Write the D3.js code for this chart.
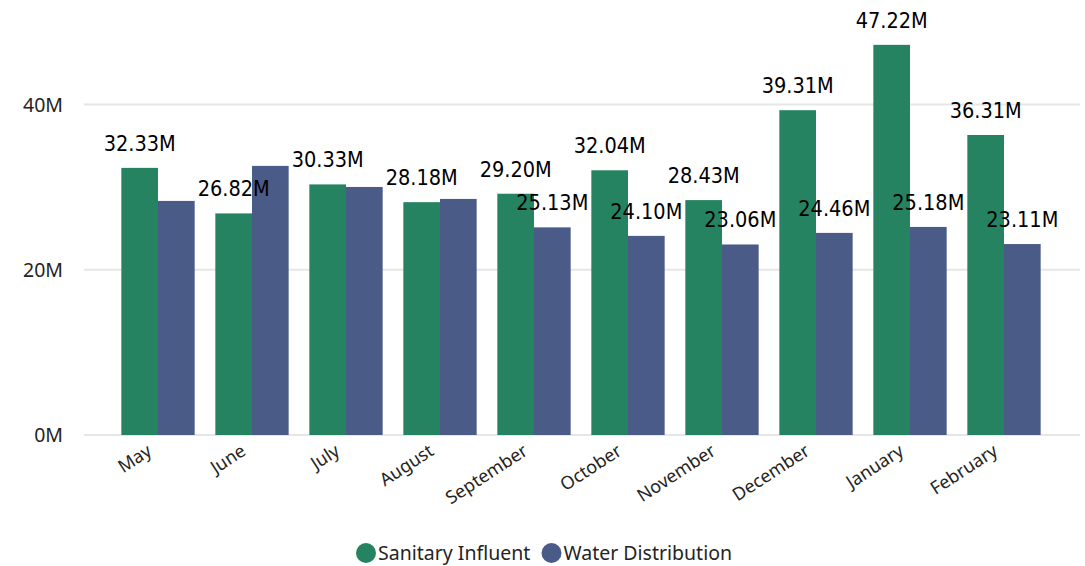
<!DOCTYPE html>
<html>
<head>
<meta charset="utf-8">
<script src="https://cdn.jsdelivr.net/npm/d3@7"></script>
<style>
  html, body { margin: 0; padding: 0; background: #ffffff; }
  svg { display: block; }
</style>
</head>
<body>
<svg id="chart" width="1085" height="566"></svg>
<script>
// Monthly volumes (millions) for the two systems
const months = ["May", "June", "July", "August", "September", "October", "November", "December", "January", "February"];
const sanitaryInfluent = [32.33, 26.82, 30.33, 28.18, 29.20, 32.04, 28.43, 39.31, 47.22, 36.31];
const waterDistribution = [28.33, 32.57, 30.02, 28.57, 25.13, 24.10, 23.06, 24.46, 25.18, 23.11];
// Months whose Water Distribution value carries a data label
const waterLabelMonths = ["September", "October", "November", "December", "January", "February"];
const seriesNames = ["Sanitary Influent", "Water Distribution"];
const seriesColors = ["#258361", "#4B5B88"];
const yTicks = [0, 20, 40];

const svg = d3.select("#chart");
const uiFont = "'Noto Sans', 'Open Sans', sans-serif";

const x = d3.scaleBand().domain(months).range([111, 1051]).paddingInner(0.22).paddingOuter(0.11);
const xs = d3.scaleBand().domain(seriesNames).range([0, x.bandwidth()]);
const y = d3.scaleLinear().domain([0, 40]).range([435, 104.5]);

// Gridlines
svg.append("g")
  .selectAll("line")
  .data(yTicks)
  .join("line")
  .attr("x1", 84).attr("x2", 1080)
  .attr("y1", d => y(d)).attr("y2", d => y(d))
  .attr("stroke", "#e6e6e6")
  .attr("stroke-width", 2);

// Y axis labels
svg.append("g")
  .selectAll("text")
  .data(yTicks)
  .join("text")
  .attr("x", 63)
  .attr("y", d => y(d))
  .attr("dy", "0.36em")
  .attr("text-anchor", "end")
  .attr("font-family", uiFont)
  .attr("font-size", 19.5)
  .attr("fill", "#252423")
  .text(d => d + "M");

const rows = months.map((m, i) => ({
  month: m,
  values: [
    { series: seriesNames[0], value: sanitaryInfluent[i], color: seriesColors[0], label: true },
    { series: seriesNames[1], value: waterDistribution[i], color: seriesColors[1], label: waterLabelMonths.includes(m) }
  ]
}));

const groups = svg.append("g")
  .selectAll("g")
  .data(rows)
  .join("g")
  .attr("transform", d => `translate(${x(d.month)},0)`);

groups.selectAll("rect")
  .data(d => d.values)
  .join("rect")
  .attr("x", d => xs(d.series))
  .attr("y", d => y(d.value))
  .attr("width", xs.bandwidth())
  .attr("height", d => y(0) - y(d.value))
  .attr("fill", d => d.color);

// Value labels
groups.selectAll("text")
  .data(d => d.values.filter(v => v.label))
  .join("text")
  .attr("x", d => xs(d.series) + xs.bandwidth() / 2)
  .attr("y", d => y(d.value) - 17)
  .attr("text-anchor", "middle")
  .attr("font-family", "'DejaVu Sans', sans-serif")
  .attr("font-stretch", "condensed")
  .attr("font-size", 21.5)
  .attr("fill", "#000000")
  .text(d => d.value.toFixed(2) + "M");

// X axis labels, rotated
svg.append("g")
  .selectAll("text")
  .data(months)
  .join("text")
  .attr("transform", d => `translate(${x(d) + x.bandwidth() / 2 - 5},454) rotate(-33)`)
  .attr("text-anchor", "end")
  .attr("font-family", uiFont)
  .attr("font-size", 18)
  .attr("fill", "#252423")
  .text(d => d);

// Legend
const legend = svg.append("g").attr("transform", "translate(0,553)");
const legendX = [366, 551.5];
seriesNames.forEach((name, i) => {
  legend.append("circle")
    .attr("cx", legendX[i]).attr("cy", 0).attr("r", 10)
    .attr("fill", seriesColors[i]);
  legend.append("text")
    .attr("x", legendX[i] + 12).attr("y", 0).attr("dy", "0.36em")
    .attr("font-family", uiFont)
    .attr("font-size", 19.5)
    .attr("fill", "#252423")
    .text(name);
});
</script>
</body>
</html>
